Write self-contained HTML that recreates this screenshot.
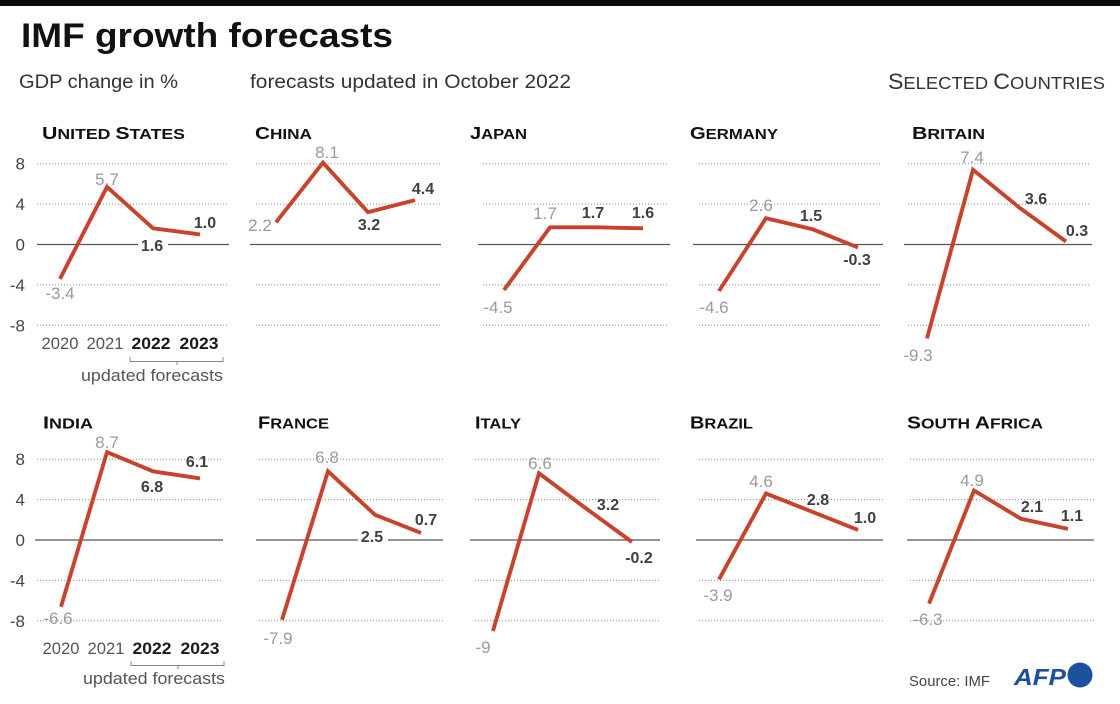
<!DOCTYPE html>
<html><head><meta charset="utf-8"><style>
html,body{margin:0;padding:0;background:#fff;}
svg{display:block;font-family:"Liberation Sans",sans-serif;}
.g{fill:#9a9a9a;font-size:17px;text-anchor:middle;}
.b{fill:#3f3f3f;font-size:16px;font-weight:bold;text-anchor:middle;}
.ax{fill:#444;font-size:17px;text-anchor:end;}
.yr{fill:#555;font-size:17px;text-anchor:middle;}
.yb{fill:#1a1a1a;font-size:17px;text-anchor:middle;font-weight:bold;}
.t{fill:#111;font-weight:bold;}
.grid{stroke:#8a8a8a;stroke-width:1;stroke-dasharray:1 2;}
.zero{stroke:#555;stroke-width:1.3;}
.ln{fill:none;stroke:#c8432b;stroke-width:3.9;stroke-linejoin:miter;}
</style></head><body>
<svg width="1120" height="704" viewBox="0 0 1120 704" xmlns="http://www.w3.org/2000/svg">
<rect x="0" y="0" width="1120" height="704" fill="#fff"/>
<rect x="0" y="0" width="1120" height="6" fill="#0b0b0b"/>
<text x="21" y="47" font-size="34" font-weight="bold" fill="#111" textLength="372" lengthAdjust="spacingAndGlyphs">IMF growth forecasts</text>
<text x="19" y="88" font-size="19" fill="#333" textLength="159" lengthAdjust="spacingAndGlyphs">GDP change in %</text>
<text x="250" y="88" font-size="19" fill="#333" textLength="321" lengthAdjust="spacingAndGlyphs">forecasts updated in October 2022</text>
<text x="888" y="89" fill="#333" textLength="217" lengthAdjust="spacingAndGlyphs"><tspan font-size="22">S</tspan><tspan font-size="17.5">ELECTED </tspan><tspan font-size="22">C</tspan><tspan font-size="17.5">OUNTRIES</tspan></text>

<!-- Panel titles row 1 -->
<text class="t" x="42" y="139" textLength="143" lengthAdjust="spacingAndGlyphs"><tspan font-size="17.5">U</tspan><tspan font-size="14.5">NITED </tspan><tspan font-size="17.5">S</tspan><tspan font-size="14.5">TATES</tspan></text>
<text class="t" x="255" y="139" textLength="57" lengthAdjust="spacingAndGlyphs"><tspan font-size="17.5">C</tspan><tspan font-size="14.5">HINA</tspan></text>
<text class="t" x="470" y="139" textLength="57" lengthAdjust="spacingAndGlyphs"><tspan font-size="17.5">J</tspan><tspan font-size="14.5">APAN</tspan></text>
<text class="t" x="690" y="139" textLength="88" lengthAdjust="spacingAndGlyphs"><tspan font-size="17.5">G</tspan><tspan font-size="14.5">ERMANY</tspan></text>
<text class="t" x="912" y="139" textLength="73" lengthAdjust="spacingAndGlyphs"><tspan font-size="17.5">B</tspan><tspan font-size="14.5">RITAIN</tspan></text>
<!-- Panel titles row 2 -->
<text class="t" x="43" y="428.5" textLength="50" lengthAdjust="spacingAndGlyphs"><tspan font-size="17.5">I</tspan><tspan font-size="14.5">NDIA</tspan></text>
<text class="t" x="258" y="428.5" textLength="71" lengthAdjust="spacingAndGlyphs"><tspan font-size="17.5">F</tspan><tspan font-size="14.5">RANCE</tspan></text>
<text class="t" x="475" y="428.5" textLength="46" lengthAdjust="spacingAndGlyphs"><tspan font-size="17.5">I</tspan><tspan font-size="14.5">TALY</tspan></text>
<text class="t" x="690" y="428.5" textLength="63" lengthAdjust="spacingAndGlyphs"><tspan font-size="17.5">B</tspan><tspan font-size="14.5">RAZIL</tspan></text>
<text class="t" x="907" y="428.5" textLength="136" lengthAdjust="spacingAndGlyphs"><tspan font-size="17.5">S</tspan><tspan font-size="14.5">OUTH </tspan><tspan font-size="17.5">A</tspan><tspan font-size="14.5">FRICA</tspan></text>

<!-- Y axis labels -->
<g class="ax">
<text x="25" y="169.7">8</text><text x="25" y="210.1">4</text><text x="25" y="250.5">0</text><text x="25" y="290.9">-4</text><text x="25" y="331.3">-8</text>
<text x="25" y="465.2">8</text><text x="25" y="505.6">4</text><text x="25" y="546">0</text><text x="25" y="586.4">-4</text><text x="25" y="626.8">-8</text>
</g>

<!-- Gridlines row 1 -->
<g class="grid">
<line x1="37" x2="227" y1="163.7" y2="163.7"/><line x1="37" x2="227" y1="204.1" y2="204.1"/><line x1="37" x2="227" y1="284.9" y2="284.9"/><line x1="37" x2="227" y1="325.3" y2="325.3"/>
<line x1="256" x2="440" y1="163.7" y2="163.7"/><line x1="256" x2="440" y1="204.1" y2="204.1"/><line x1="256" x2="440" y1="284.9" y2="284.9"/><line x1="256" x2="440" y1="325.3" y2="325.3"/>
<line x1="483" x2="669" y1="163.7" y2="163.7"/><line x1="483" x2="669" y1="204.1" y2="204.1"/><line x1="483" x2="669" y1="284.9" y2="284.9"/><line x1="483" x2="669" y1="325.3" y2="325.3"/>
<line x1="699" x2="882" y1="163.7" y2="163.7"/><line x1="699" x2="882" y1="204.1" y2="204.1"/><line x1="699" x2="882" y1="284.9" y2="284.9"/><line x1="699" x2="882" y1="325.3" y2="325.3"/>
<line x1="908" x2="1091" y1="163.7" y2="163.7"/><line x1="908" x2="1091" y1="204.1" y2="204.1"/><line x1="908" x2="1091" y1="284.9" y2="284.9"/><line x1="908" x2="1091" y1="325.3" y2="325.3"/>
<!-- row 2 -->
<line x1="37" x2="223" y1="459.2" y2="459.2"/><line x1="37" x2="223" y1="499.6" y2="499.6"/><line x1="37" x2="223" y1="580.4" y2="580.4"/><line x1="37" x2="223" y1="620.8" y2="620.8"/>
<line x1="259" x2="443" y1="459.2" y2="459.2"/><line x1="259" x2="443" y1="499.6" y2="499.6"/><line x1="259" x2="443" y1="580.4" y2="580.4"/><line x1="259" x2="443" y1="620.8" y2="620.8"/>
<line x1="475" x2="660" y1="459.2" y2="459.2"/><line x1="475" x2="660" y1="499.6" y2="499.6"/><line x1="475" x2="660" y1="580.4" y2="580.4"/><line x1="475" x2="660" y1="620.8" y2="620.8"/>
<line x1="699" x2="883" y1="459.2" y2="459.2"/><line x1="699" x2="883" y1="499.6" y2="499.6"/><line x1="699" x2="883" y1="580.4" y2="580.4"/><line x1="699" x2="883" y1="620.8" y2="620.8"/>
<line x1="910" x2="1094" y1="459.2" y2="459.2"/><line x1="910" x2="1094" y1="499.6" y2="499.6"/><line x1="910" x2="1094" y1="580.4" y2="580.4"/><line x1="910" x2="1094" y1="620.8" y2="620.8"/>
</g>

<!-- Zero lines -->
<g class="zero">
<line x1="37" x2="229" y1="244.5" y2="244.5"/>
<line x1="250" x2="441" y1="244.5" y2="244.5"/>
<line x1="478" x2="670" y1="244.5" y2="244.5"/>
<line x1="693" x2="883" y1="244.5" y2="244.5"/>
<line x1="904" x2="1092" y1="244.5" y2="244.5"/>
<line x1="35" x2="223" y1="540" y2="540"/>
<line x1="256" x2="443" y1="540" y2="540"/>
<line x1="470" x2="660" y1="540" y2="540"/>
<line x1="696" x2="883" y1="540" y2="540"/>
<line x1="907" x2="1094" y1="540" y2="540"/>
</g>

<!-- Series -->
<polyline class="ln" points="60,278.8 107,186.9 153,228.3 200,234.4"/>
<polyline class="ln" points="276,222.3 323,162.7 368,212.2 415,200.1"/>
<polyline class="ln" points="504,290 550,227.3 597,227.3 643,228.3"/>
<polyline class="ln" points="719,291 766,218.2 813,229.4 858,247.5"/>
<polyline class="ln" points="927,338.4 973,169.8 1020,208.1 1066,241.5"/>
<polyline class="ln" points="61,606.7 107,452.1 153,471.3 200,478.4"/>
<polyline class="ln" points="282,619.8 328,471.3 375,514.8 421,532.9"/>
<polyline class="ln" points="493,630.9 539,473.3 585,507.7 632,542"/>
<polyline class="ln" points="719,579.4 766,493.5 812,511.7 858,529.9"/>
<polyline class="ln" points="929,603.6 974,490.5 1021,518.8 1068,528.9"/>

<!-- white knockouts for labels on zero lines -->
<rect x="138" y="237" width="30" height="16" fill="#fff"/>
<rect x="358" y="528" width="30" height="16" fill="#fff"/>

<!-- Value labels row 1 -->
<text class="g" x="60" y="299">-3.4</text><text class="g" x="107" y="185">5.7</text><text class="b" x="152" y="251">1.6</text><text class="b" x="205" y="228">1.0</text>
<text class="g" x="260" y="231">2.2</text><text class="g" x="327" y="158">8.1</text><text class="b" x="369" y="230">3.2</text><text class="b" x="423" y="194">4.4</text>
<text class="g" x="498" y="313">-4.5</text><text class="g" x="545" y="219">1.7</text><text class="b" x="593" y="218">1.7</text><text class="b" x="643" y="218">1.6</text>
<text class="g" x="714" y="313">-4.6</text><text class="g" x="761" y="211">2.6</text><text class="b" x="811" y="221">1.5</text><text class="b" x="857" y="265">-0.3</text>
<text class="g" x="918" y="361">-9.3</text><text class="g" x="972" y="163">7.4</text><text class="b" x="1036" y="204">3.6</text><text class="b" x="1077" y="236">0.3</text>
<!-- Value labels row 2 -->
<text class="g" x="58" y="624">-6.6</text><text class="g" x="107" y="448">8.7</text><text class="b" x="152" y="492">6.8</text><text class="b" x="197" y="467">6.1</text>
<text class="g" x="278" y="644">-7.9</text><text class="g" x="327" y="463">6.8</text><text class="b" x="372" y="542">2.5</text><text class="b" x="426" y="525">0.7</text>
<text class="g" x="483" y="653">-9</text><text class="g" x="540" y="469">6.6</text><text class="b" x="608" y="510">3.2</text><text class="b" x="639" y="563">-0.2</text>
<text class="g" x="718" y="601">-3.9</text><text class="g" x="761" y="487">4.6</text><text class="b" x="818" y="505">2.8</text><text class="b" x="865" y="523">1.0</text>
<text class="g" x="928" y="625">-6.3</text><text class="g" x="972" y="486">4.9</text><text class="b" x="1032" y="512">2.1</text><text class="b" x="1072" y="521">1.1</text>

<!-- Year labels row 1 -->
<text class="yr" x="60" y="349" textLength="37" lengthAdjust="spacingAndGlyphs">2020</text>
<text class="yr" x="105" y="349" textLength="37" lengthAdjust="spacingAndGlyphs">2021</text>
<text class="yb" x="151" y="349" textLength="39" lengthAdjust="spacingAndGlyphs">2022</text>
<text class="yb" x="199" y="349" textLength="39" lengthAdjust="spacingAndGlyphs">2023</text>
<path d="M130,357 V361.5 H223 V357 M177,361.5 V365" fill="none" stroke="#888" stroke-width="1"/>
<text x="81" y="381" font-size="17" fill="#555" textLength="142" lengthAdjust="spacingAndGlyphs">updated forecasts</text>

<!-- Year labels row 2 -->
<text class="yr" x="61" y="654" textLength="37" lengthAdjust="spacingAndGlyphs">2020</text>
<text class="yr" x="106" y="654" textLength="37" lengthAdjust="spacingAndGlyphs">2021</text>
<text class="yb" x="152" y="654" textLength="39" lengthAdjust="spacingAndGlyphs">2022</text>
<text class="yb" x="200" y="654" textLength="39" lengthAdjust="spacingAndGlyphs">2023</text>
<path d="M131,661 V665.5 H224 V661 M178,665.5 V669" fill="none" stroke="#888" stroke-width="1"/>
<text x="83" y="684" font-size="17" fill="#555" textLength="142" lengthAdjust="spacingAndGlyphs">updated forecasts</text>

<!-- Footer -->
<text x="909" y="686" font-size="15" fill="#444" textLength="81" lengthAdjust="spacingAndGlyphs">Source: IMF</text>
<text x="1014" y="685" font-size="23" font-weight="bold" font-style="italic" fill="#1d4f9f" textLength="52" lengthAdjust="spacingAndGlyphs">AFP</text>
<circle cx="1080" cy="675" r="12.5" fill="#1d4f9f"/>
</svg>
</body></html>
